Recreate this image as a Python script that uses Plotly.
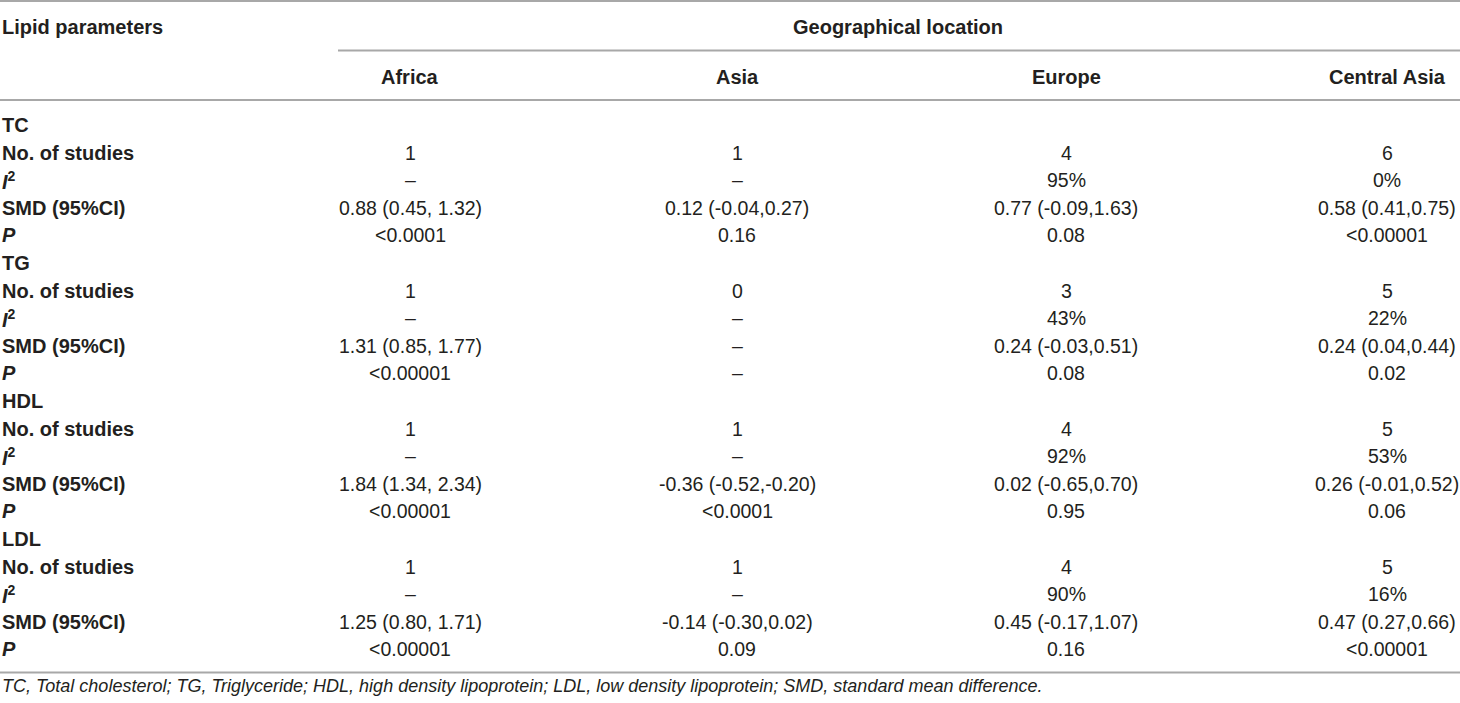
import plotly.graph_objects as go

# table content
regions = ["Africa", "Asia", "Europe", "Central Asia"]
lipids = ["TC", "TG", "HDL", "LDL"]
metrics = ["No. of studies", "<i>I</i><sup>2</sup>", "SMD (95%CI)", "<i>P</i>"]

# one list per lipid, values ordered as regions
tc_studies = ["1", "1", "4", "6"]
tc_i2 = ["–", "–", "95%", "0%"]
tc_smd = ["0.88 (0.45, 1.32)", "0.12 (-0.04,0.27)", "0.77 (-0.09,1.63)", "0.58 (0.41,0.75)"]
tc_p = ["<0.0001", "0.16", "0.08", "<0.00001"]

tg_studies = ["1", "0", "3", "5"]
tg_i2 = ["–", "–", "43%", "22%"]
tg_smd = ["1.31 (0.85, 1.77)", "–", "0.24 (-0.03,0.51)", "0.24 (0.04,0.44)"]
tg_p = ["<0.00001", "–", "0.08", "0.02"]

hdl_studies = ["1", "1", "4", "5"]
hdl_i2 = ["–", "–", "92%", "53%"]
hdl_smd = ["1.84 (1.34, 2.34)", "-0.36 (-0.52,-0.20)", "0.02 (-0.65,0.70)", "0.26 (-0.01,0.52)"]
hdl_p = ["<0.00001", "<0.0001", "0.95", "0.06"]

ldl_studies = ["1", "1", "4", "5"]
ldl_i2 = ["–", "–", "90%", "16%"]
ldl_smd = ["1.25 (0.80, 1.71)", "-0.14 (-0.30,0.02)", "0.45 (-0.17,1.07)", "0.47 (0.27,0.66)"]
ldl_p = ["<0.00001", "0.09", "0.16", "<0.00001"]

footnote = ("TC, Total cholesterol; TG, Triglyceride; HDL, high density lipoprotein; "
            "LDL, low density lipoprotein; SMD, standard mean difference.")

blocks = [
    [tc_studies, tc_i2, tc_smd, tc_p],
    [tg_studies, tg_i2, tg_smd, tg_p],
    [hdl_studies, hdl_i2, hdl_smd, hdl_p],
    [ldl_studies, ldl_i2, ldl_smd, ldl_p],
]

W, H = 1460, 703
col_x = [410, 737, 1066, 1387]
row0, pitch = 125, 27.6
ink = "#231f20"
rule = "#a8a8a8"
fnt = "Liberation Sans, Arial, sans-serif"

fig = go.Figure()
ann = []


def add_text(x, y, text, anchor="center", bold=False, italic=False, size=19.5):
    if bold:
        text = "<b>%s</b>" % text
    if italic:
        text = "<i>%s</i>" % text
    ann.append(dict(x=x, y=y, xref="x", yref="y", text=text, showarrow=False,
                    xanchor=anchor, yanchor="middle",
                    font=dict(family=fnt, size=size, color=ink)))


# headers
add_text(0, 27, "Lipid parameters", anchor="left", bold=True, size=20)
add_text(898, 27, "Geographical location", bold=True, size=20)
for x, name in zip(col_x, regions):
    add_text(x, 77, name, bold=True, size=20)

# body
row = 0
for lipid, block in zip(lipids, blocks):
    add_text(0, row0 + row * pitch, lipid, anchor="left", bold=True, size=20)
    row += 1
    for metric, values in zip(metrics, block):
        y = row0 + row * pitch
        add_text(0, y, metric, anchor="left", bold=True, size=20)
        for x, v in zip(col_x, values):
            add_text(x, y, v.replace("<", "&lt;"))
        row += 1

add_text(0, 686, footnote, anchor="left", italic=True, size=18)

# horizontal rules
rules = [(0, W, 1), (338, W, 50.5), (0, W, 100), (0, W, 672.5)]
shapes = [dict(type="line", xref="x", yref="y", x0=a, x1=b, y0=y, y1=y,
               line=dict(color=rule, width=2)) for a, b, y in rules]

fig.update_layout(
    width=W, height=H,
    margin=dict(l=0, r=0, t=0, b=0),
    paper_bgcolor="white", plot_bgcolor="white",
    xaxis=dict(range=[0, W], visible=False, fixedrange=True),
    yaxis=dict(range=[H, 0], visible=False, fixedrange=True),
    annotations=ann, shapes=shapes,
    showlegend=False,
)

# drop the page's default body margin so the table sits at the window corner
fig.write_html("out.html", config={'displayModeBar': False},
               post_script="document.body.style.margin='0';document.body.style.overflow='hidden';")
